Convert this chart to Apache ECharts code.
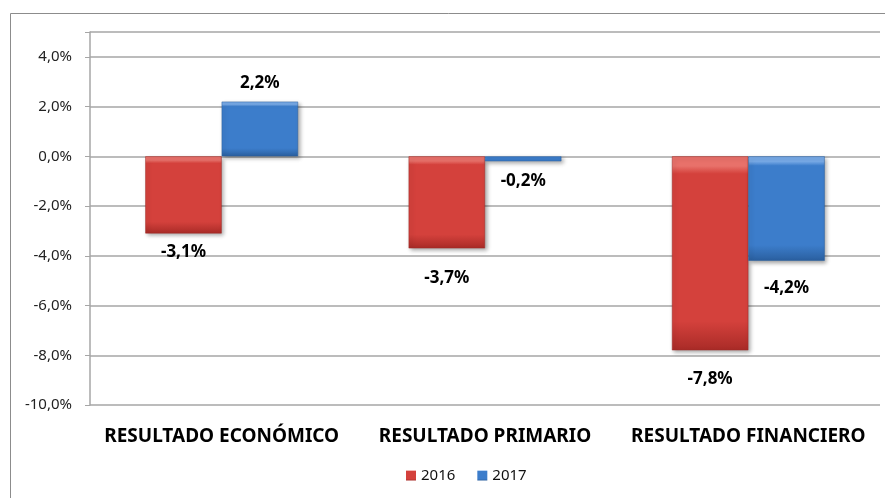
<!DOCTYPE html>
<html><head><meta charset="utf-8">
<script src="https://cdn.jsdelivr.net/npm/echarts@6/dist/echarts.min.js"></script>
<style>html,body{margin:0;padding:0;background:#fff}#c{width:885px;height:498px}</style>
</head><body><div id="c"></div>
<script>
const categories = ['RESULTADO ECONÓMICO', 'RESULTADO PRIMARIO', 'RESULTADO FINANCIERO'];
const seriesNames = ['2016', '2017'];
const values2016 = [-3.1, -3.7, -7.8];
const values2017 = [2.2, -0.2, -4.2];
const yMin = -10, yMax = 5, yStep = 2;

// label gaps (styling, not data)
const gap2016 = [10, 21, 20];
const gap2017 = [10, 11, 19];

const fmt = v => v.toFixed(1).replace('.', ',') + '%';
const FONT = '"Noto Sans", "Open Sans", sans-serif';

function grad(top, mid, bottom) {
  return new echarts.graphic.LinearGradient(0, 0, 0, 1, [
    {offset: 0, color: top}, {offset: 0.05, color: top},
    {offset: 0.09, color: mid},
    {offset: 0.85, color: mid},
    {offset: 1, color: bottom}
  ]);
}

function makeData(vals, gaps) {
  return vals.map((v, i) => ({
    value: v,
    label: {position: v >= 0 ? 'top' : 'bottom', distance: gaps[i]}
  }));
}

const chart = echarts.init(document.getElementById('c'), null, {renderer: 'canvas'});
const nLines = (yMax - yMin) / yStep + 2;
const splitColors = [];
for (let i = 0; i < nLines; i++) splitColors.push(i < nLines - 1 ? '#a6a6a6' : 'rgba(0,0,0,0)');

chart.setOption({
  animation: false,
  backgroundColor: '#fff',
  graphic: [{
    type: 'rect', left: 8, top: 11, shape: {width: 900, height: 500},
    style: {fill: 'none', stroke: '#8c8c8c', lineWidth: 1}, silent: true, z: -1
  }],
  grid: {left: 90, right: 5, top: 32, bottom: 93},
  legend: {
    data: seriesNames, left: 401, top: 463, icon: 'rect',
    itemWidth: 10, itemHeight: 10, itemGap: 22, itemStyle: {borderWidth: 0},
    textStyle: {fontSize: 15, color: '#111', fontFamily: FONT}
  },
  xAxis: {
    type: 'category', data: categories, position: 'bottom',
    axisLine: {show: false}, axisTick: {show: false},
    axisLabel: {interval: 0, fontSize: 19, fontWeight: 'bold', color: '#000', fontFamily: FONT, margin: 22}
  },
  yAxis: {
    type: 'value', min: yMin, max: yMax, interval: yStep,
    axisLine: {show: true, lineStyle: {color: '#a6a6a6', width: 1.5}},
    axisTick: {show: true, length: 5, lineStyle: {color: '#a6a6a6'}},
    splitLine: {show: true, lineStyle: {color: splitColors, width: 1.5}},
    axisLabel: {
      fontSize: 15, color: '#222', fontFamily: FONT, margin: 18,
      formatter: v => (v > 4.5 ? '' : fmt(v))
    }
  },
  series: [{
    name: seriesNames[0], type: 'bar', barWidth: '29%', barGap: '0%',
    data: makeData(values2016, gap2016),
    itemStyle: {
      color: grad('#e8716a', '#d4413c', '#a92b27'), borderColor: '#9e2a26', borderWidth: 0.5,
      shadowBlur: 4, shadowOffsetX: 2, shadowOffsetY: 2, shadowColor: 'rgba(0,0,0,0.35)'
    },
    label: {show: true, formatter: p => fmt(p.value), fontSize: 17, fontWeight: 'bold', color: '#000', fontFamily: FONT}
  }, {
    name: seriesNames[1], type: 'bar', barWidth: '29%', barGap: '0%',
    data: makeData(values2017, gap2017),
    itemStyle: {
      color: grad('#77a9e6', '#3c7dcb', '#2a5f9f'), borderColor: '#285e9e', borderWidth: 0.5,
      shadowBlur: 4, shadowOffsetX: 2, shadowOffsetY: 2, shadowColor: 'rgba(0,0,0,0.35)'
    },
    label: {show: true, formatter: p => fmt(p.value), fontSize: 17, fontWeight: 'bold', color: '#000', fontFamily: FONT}
  }],
  color: ['#c83a35', '#3a78c4']
});
</script></body></html>
